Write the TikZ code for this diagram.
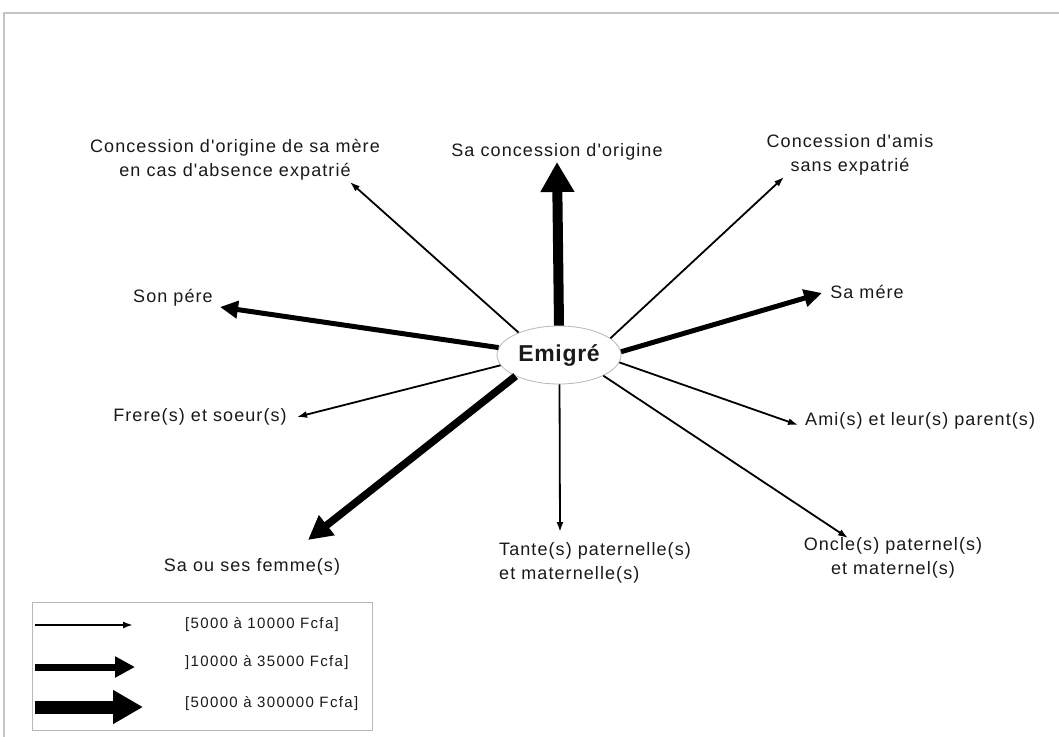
\documentclass[tikz,border=0pt]{standalone}
\usepackage{fontspec}
\setmainfont{Liberation Sans}
\newfontfamily\labfont[LetterSpace=6]{Liberation Sans}
\newfontfamily\legfont[LetterSpace=9]{Liberation Sans}
\newfontfamily\emfont[LetterSpace=3]{Liberation Sans}
\usetikzlibrary{arrows.meta,shapes.geometric}
\definecolor{txt}{HTML}{1A1A1A}
\definecolor{frame}{HTML}{C4C4C4}
\definecolor{ell}{HTML}{B8B8B8}
\tikzset{
  lab/.style={text=txt, inner sep=0pt, align=center, font=\labfont\fontsize{18}{24}\selectfont},
  leglab/.style={text=txt, inner sep=0pt, anchor=west, font=\legfont\fontsize{15}{17}\selectfont},
  thinarr/.style={line width=1.8pt, -{Latex[length=10pt,width=7pt]}},
  medarr/.style={line width=5pt, -{Triangle[length=18pt,width=17pt]}},
  femarr/.style={line width=7.5pt, -{Triangle[length=24pt,width=24pt]}},
  bigarr/.style={line width=10pt, -{Triangle[length=30pt,width=32pt]}},
  legmed/.style={line width=7pt, -{Triangle[length=20pt,width=20pt]}},
  legbig/.style={line width=13pt, -{Triangle[length=30pt,width=32pt]}},
}
\begin{document}
\begin{tikzpicture}[x=1pt,y=-1pt]
\useasboundingbox (0,0) rectangle (1059,736);
\clip (0,0) rectangle (1059,736);
\fill[white] (0,0) rectangle (1059,736);
\draw[frame, line width=2pt] (4,13) rectangle (1064,741);

% centre
\node[draw=ell, line width=0.8pt, ellipse, minimum width=124pt, minimum height=58pt, inner sep=0pt,
      text=txt, font=\emfont\bfseries\fontsize{23}{26}\selectfont] (e) at (559,355) {Emigré};

% labels
\node[lab] (lconc) at (557,152) {Sa concession d'origine};
\node[lab] (lmconc) at (235,160) {Concession d'origine de sa mère\\en cas d'absence expatrié};
\node[lab] (laconc) at (850,155) {Concession d'amis\\sans expatrié};
\node[lab] (lpere) at (173,298) {Son pére};
\node[lab] (lmere) at (867,292) {Sa mére};
\node[lab] (lfrere) at (200,417) {Frere(s) et soeur(s)};
\node[lab] (lfemme) at (252,567) {Sa ou ses femme(s)};
\node[lab, align=left, anchor=west] (ltante) at (499,563) {Tante(s) paternelle(s)\\et maternelle(s)};
\node[lab, anchor=west] (lami) at (805,421) {Ami(s) et leur(s) parent(s)};
\node[lab] (loncle) at (893,558) {Oncle(s) paternel(s)\\et maternel(s)};

% arrow tips
\coordinate (tconc) at (557,162);
\coordinate (tmconc) at (350,182);
\coordinate (taconc) at (784,177);
\coordinate (tpere) at (220,307);
\coordinate (tmere) at (822,293);
\coordinate (tfrere) at (297,417);
\coordinate (tfemme) at (308,540);
\coordinate (ttante) at (560,532);
\coordinate (tami) at (798,425);
\coordinate (toncle) at (848,538);

% connectors
\draw[bigarr] (e.90) -- (tconc);
\draw[thinarr] (e.151) -- (tmconc);
\draw[thinarr] (e.18) -- (taconc);
\draw[medarr] (e.173) -- (tpere);
\draw[medarr] (e.3) -- (tmere);
\draw[thinarr] (e.190) -- (tfrere);
\draw[femarr] (e.206) -- (tfemme);
\draw[thinarr] (e.271) -- (ttante);
\draw[thinarr] (e.353) -- (tami);
\draw[thinarr] (e.335) -- (toncle);

% legend
\node[draw=ell, line width=0.8pt, minimum width=340pt, minimum height=128pt, inner sep=0pt] (leg) at (202,666) {};
\coordinate (l1a) at (35,625); \coordinate (l1b) at (133,625);
\coordinate (l2a) at (35,667); \coordinate (l2b) at (135,667);
\coordinate (l3a) at (35,707); \coordinate (l3b) at (143,707);
\draw[thinarr] (l1a) -- (l1b);
\draw[legmed] (l2a) -- (l2b);
\draw[legbig] (l3a) -- (l3b);
\node[leglab] (g1) at (185,625) {[5000 à 10000 Fcfa]};
\node[leglab] (g2) at (185,663) {]10000 à 35000 Fcfa]};
\node[leglab] (g3) at (185,704) {[50000 à 300000 Fcfa]};
\end{tikzpicture}
\end{document}
